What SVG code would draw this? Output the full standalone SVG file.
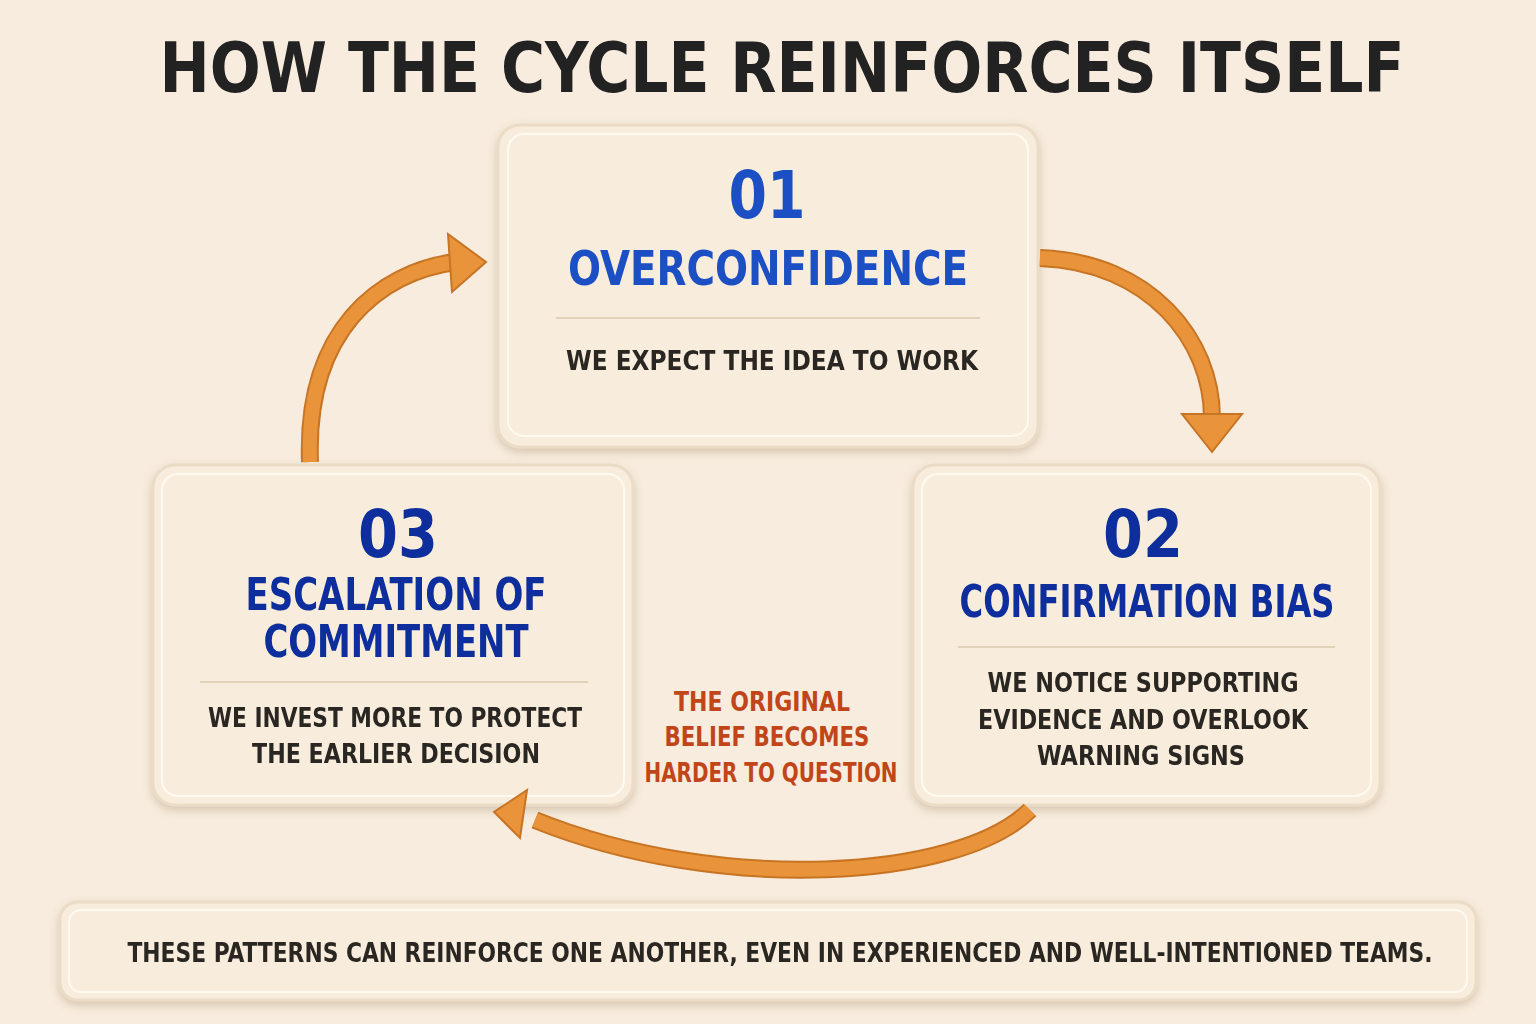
<svg xmlns="http://www.w3.org/2000/svg" width="1536" height="1024" viewBox="0 0 1536 1024">
<style>
.box{fill:#f8eddc;stroke:#eadcc6;stroke-width:3}
.inner{fill:none;stroke:#fffaf0;stroke-width:2}
.num{font-family:"DejaVu Sans Condensed","DejaVu Sans",sans-serif;font-weight:bold;text-anchor:middle}
.hd{font-family:"DejaVu Sans Condensed","DejaVu Sans",sans-serif;font-weight:bold;text-anchor:middle}
.tx{font-family:"DejaVu Sans Condensed","DejaVu Sans",sans-serif;font-weight:bold;text-anchor:middle;fill:#2a2622;font-size:27px}
.sep{stroke:#d9c9ae;stroke-width:1.5}
.arr{fill:none;stroke:#e9943a;stroke-width:14}
.arrb{fill:none;stroke:#c77424;stroke-width:18}
</style>
<defs>
<filter id="sh" x="-10%" y="-10%" width="120%" height="130%"><feDropShadow dx="0" dy="4" stdDeviation="4" flood-color="#a08060" flood-opacity="0.35"/></filter>
</defs>
<rect width="1536" height="1024" fill="#f7ecdd"/>
<text x="782" y="92" class="hd" font-size="70" fill="#222" textLength="1245" lengthAdjust="spacingAndGlyphs">HOW THE CYCLE REINFORCES ITSELF</text>
<g id="n1" filter="url(#sh)">
<rect class="box" x="498" y="125" width="540" height="322" rx="22"/>
<rect class="inner" x="508" y="134" width="520" height="302" rx="16"/>
<text x="767" y="218" class="num" font-size="66" fill="#1a4fc4" textLength="77" lengthAdjust="spacingAndGlyphs">01</text>
<text x="768" y="285" class="hd" font-size="48" fill="#1a4fc4" textLength="400" lengthAdjust="spacingAndGlyphs">OVERCONFIDENCE</text>
<line class="sep" x1="556" y1="318" x2="980" y2="318"/>
<text x="772" y="370" class="tx" textLength="412" lengthAdjust="spacingAndGlyphs">WE EXPECT THE IDEA TO WORK</text>
</g>
<g id="n2" filter="url(#sh)">
<rect class="box" x="913" y="465" width="467" height="340" rx="22"/>
<rect class="inner" x="922" y="474" width="449" height="322" rx="16"/>
<text x="1143" y="557" class="num" font-size="66" fill="#0c2f9c" textLength="80" lengthAdjust="spacingAndGlyphs">02</text>
<text x="1147" y="617" class="hd" font-size="44" fill="#0c2f9c" textLength="375" lengthAdjust="spacingAndGlyphs">CONFIRMATION BIAS</text>
<line class="sep" x1="958" y1="647" x2="1335" y2="647"/>
<text x="1143" y="692" class="tx" textLength="311" lengthAdjust="spacingAndGlyphs">WE NOTICE SUPPORTING</text>
<text x="1143" y="729" class="tx" textLength="330" lengthAdjust="spacingAndGlyphs">EVIDENCE AND OVERLOOK</text>
<text x="1141" y="765" class="tx" textLength="208" lengthAdjust="spacingAndGlyphs">WARNING SIGNS</text>
</g>
<g id="n3" filter="url(#sh)">
<rect class="box" x="153" y="465" width="480" height="340" rx="22"/>
<rect class="inner" x="162" y="474" width="462" height="322" rx="16"/>
<text x="398" y="557" class="num" font-size="66" fill="#0c2f9c" textLength="80" lengthAdjust="spacingAndGlyphs">03</text>
<text x="396" y="610" class="hd" font-size="44" fill="#0c2f9c" textLength="301" lengthAdjust="spacingAndGlyphs">ESCALATION OF</text>
<text x="396" y="657" class="hd" font-size="44" fill="#0c2f9c" textLength="265" lengthAdjust="spacingAndGlyphs">COMMITMENT</text>
<line class="sep" x1="200" y1="682" x2="588" y2="682"/>
<text x="395" y="727" class="tx" textLength="374" lengthAdjust="spacingAndGlyphs">WE INVEST MORE TO PROTECT</text>
<text x="396" y="763" class="tx" textLength="288" lengthAdjust="spacingAndGlyphs">THE EARLIER DECISION</text>
</g>
<g id="connectors">
<path class="arrb" d="M310,462 C305,330 380,272 455,262"/>
<path class="arr" d="M310,462 C305,330 380,272 455,262"/>
<polygon points="448,234 486,262 452,292" fill="#e9943a" stroke="#c77424" stroke-width="2"/>
<path class="arrb" d="M1040,258 C1150,262 1212,340 1212,418"/>
<path class="arr" d="M1040,258 C1150,262 1212,340 1212,418"/>
<polygon points="1182,414 1242,414 1212,452" fill="#e9943a" stroke="#c77424" stroke-width="2"/>
<path class="arrb" d="M1030,810 C960,880 720,895 535,820"/>
<path class="arr" d="M1030,810 C960,880 720,895 535,820"/>
<polygon points="527,790 494,812 520,838" fill="#e9943a" stroke="#c77424" stroke-width="2"/>
</g>
<g id="mid">
<text x="762" y="711" class="tx" style="fill:#c0461a" textLength="176" lengthAdjust="spacingAndGlyphs">THE ORIGINAL</text>
<text x="767" y="746" class="tx" style="fill:#c0461a" textLength="205" lengthAdjust="spacingAndGlyphs">BELIEF BECOMES</text>
<text x="771" y="782" class="tx" style="fill:#c0461a" textLength="253" lengthAdjust="spacingAndGlyphs">HARDER TO QUESTION</text>
</g>
<g id="footer" filter="url(#sh)">
<rect class="box" x="60" y="902" width="1416" height="98" rx="18"/>
<rect class="inner" x="69" y="910" width="1398" height="82" rx="12"/>
<text x="780" y="962" class="tx" textLength="1305" lengthAdjust="spacingAndGlyphs">THESE PATTERNS CAN REINFORCE ONE ANOTHER, EVEN IN EXPERIENCED AND WELL-INTENTIONED TEAMS.</text>
</g>
</svg>
